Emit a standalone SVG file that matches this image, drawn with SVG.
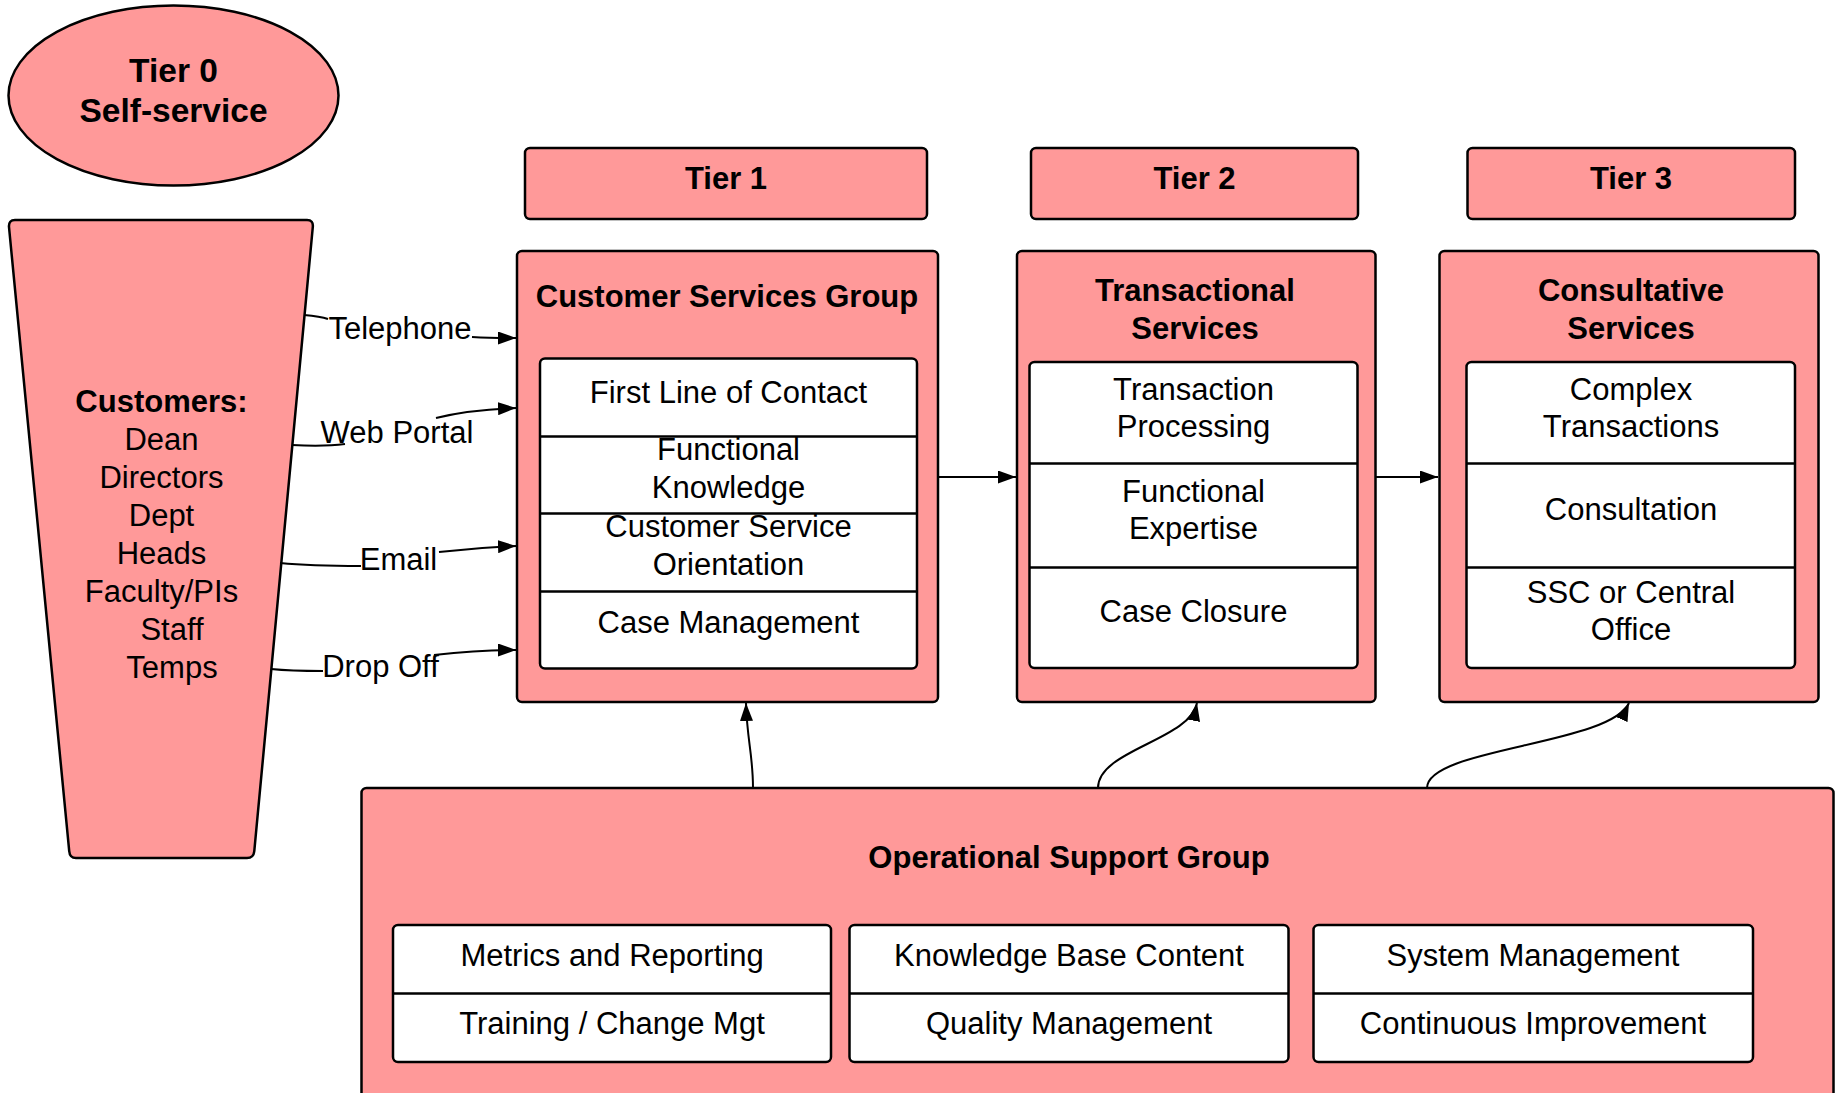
<svg xmlns="http://www.w3.org/2000/svg" width="1835" height="1093" viewBox="0 0 1835 1093">
<defs>
<style>
.box{fill:#ff9999;stroke:#000;stroke-width:2.5}
.in{fill:#fff;stroke:#000;stroke-width:2.5}
.div{stroke:#000;stroke-width:2.5;fill:none}
.t{font-family:"Liberation Sans",Arial,sans-serif;font-size:31px;fill:#000;text-anchor:middle}
.b{font-family:"Liberation Sans",Arial,sans-serif;font-size:31px;font-weight:bold;fill:#000;text-anchor:middle}
.c{fill:none;stroke:#000;stroke-width:2}
</style>
<marker id="ah" markerUnits="userSpaceOnUse" markerWidth="18" markerHeight="13" refX="18" refY="6.5" orient="auto">
<path d="M0,0 L18,6.5 L0,13 Z" fill="#000"/>
</marker>
</defs>
<rect width="1835" height="1093" fill="#fff"/>

<g id="tier0">
<ellipse class="box" cx="173.5" cy="95.5" rx="165" ry="90"/>
<text class="b" style="font-size:33.5px" x="173.5" y="82">Tier 0</text>
<text class="b" style="font-size:33.5px" x="173.5" y="122">Self-service</text>
</g>

<g id="customers">
<path class="box" d="M9,227 Q8.5,220 15,220 L307,220 Q313.5,220 312.8,227 L254.3,851 Q253.6,858 247,858 L76,858 Q69.7,858 69.2,851 Z"/>
<text class="b" x="161.5" y="412">Customers:</text>
<text class="t" x="161.5" y="450">Dean</text>
<text class="t" x="161.5" y="488">Directors</text>
<text class="t" x="161.5" y="526">Dept</text>
<text class="t" x="161.5" y="564">Heads</text>
<text class="t" x="161.5" y="602">Faculty/PIs</text>
<text class="t" x="172" y="640">Staff</text>
<text class="t" x="172" y="678">Temps</text>
</g>

<g id="tier1">
<rect class="box" x="525" y="148" width="402" height="71" rx="5"/>
<text class="b" x="726" y="189">Tier 1</text>
</g>
<g id="tier2">
<rect class="box" x="1031" y="148" width="327" height="71" rx="5"/>
<text class="b" x="1194.5" y="189">Tier 2</text>
</g>
<g id="tier3">
<rect class="box" x="1467.5" y="148" width="327.5" height="71" rx="5"/>
<text class="b" x="1631" y="189">Tier 3</text>
</g>

<g id="csg">
<rect class="box" x="517" y="251" width="421" height="451" rx="5"/>
<text class="b" x="727" y="307">Customer Services Group</text>
<rect class="in" x="540" y="358.5" width="377" height="310" rx="5"/>
<path class="div" d="M540,436.5H917M540,513.5H917M540,591.5H917"/>
<text class="t" x="728.5" y="403">First Line of Contact</text>
<text class="t" x="728.5" y="460">Functional</text>
<text class="t" x="728.5" y="498">Knowledge</text>
<text class="t" x="728.5" y="537">Customer Service</text>
<text class="t" x="728.5" y="575">Orientation</text>
<text class="t" x="728.5" y="633">Case Management</text>
</g>

<g id="ts">
<rect class="box" x="1017" y="251" width="358.5" height="451" rx="5"/>
<text class="b" x="1195" y="301">Transactional</text>
<text class="b" x="1195" y="339">Services</text>
<rect class="in" x="1029.5" y="362" width="328" height="306" rx="5"/>
<path class="div" d="M1029.5,463.5H1357.5M1029.5,567.5H1357.5"/>
<text class="t" x="1193.5" y="400">Transaction</text>
<text class="t" x="1193.5" y="437">Processing</text>
<text class="t" x="1193.5" y="502">Functional</text>
<text class="t" x="1193.5" y="539">Expertise</text>
<text class="t" x="1193.5" y="622">Case Closure</text>
</g>

<g id="cs">
<rect class="box" x="1439.5" y="251" width="379" height="451" rx="5"/>
<text class="b" x="1631" y="301">Consultative</text>
<text class="b" x="1631" y="339">Services</text>
<rect class="in" x="1466.5" y="362" width="328.5" height="306" rx="5"/>
<path class="div" d="M1466.5,463.5H1795M1466.5,567.5H1795"/>
<text class="t" x="1631" y="400">Complex</text>
<text class="t" x="1631" y="437">Transactions</text>
<text class="t" x="1631" y="520">Consultation</text>
<text class="t" x="1631" y="603">SSC or Central</text>
<text class="t" x="1631" y="640">Office</text>
</g>

<g id="osg">
<rect class="box" x="361.5" y="788" width="1472" height="340" rx="5"/>
<text class="b" x="1069" y="868">Operational Support Group</text>
<rect class="in" x="393" y="925" width="438" height="137" rx="5"/>
<path class="div" d="M393,993.5H831"/>
<text class="t" x="612" y="966">Metrics and Reporting</text>
<text class="t" x="612" y="1034">Training / Change Mgt</text>
<rect class="in" x="849.5" y="925" width="439" height="137" rx="5"/>
<path class="div" d="M849.5,993.5H1288.5"/>
<text class="t" x="1069" y="966">Knowledge Base Content</text>
<text class="t" x="1069" y="1034">Quality Management</text>
<rect class="in" x="1313.5" y="925" width="439.5" height="137" rx="5"/>
<path class="div" d="M1313.5,993.5H1753"/>
<text class="t" x="1533" y="966">System Management</text>
<text class="t" x="1533" y="1034">Continuous Improvement</text>
</g>

<g id="connectors">
<path class="c" d="M304,315 C315,316 322,317 328,319"/>
<path class="c" d="M472,337 C490,338 500,338 516,338" marker-end="url(#ah)"/>
<text class="t" x="400" y="339">Telephone</text>

<path class="c" d="M292,445 C310,446 330,446 345,444"/>
<path class="c" d="M436,418 C460,412 490,409 516,408" marker-end="url(#ah)"/>
<text class="t" x="397" y="443">Web Portal</text>

<path class="c" d="M280,563 C310,566 340,566 361,566"/>
<path class="c" d="M439,552 C465,549 490,547 516,546" marker-end="url(#ah)"/>
<text class="t" x="398.5" y="570">Email</text>

<path class="c" d="M271,669 C290,671 310,671 323,671"/>
<path class="c" d="M434,655 C460,652 490,650 516,650" marker-end="url(#ah)"/>
<text class="t" x="380.5" y="677">Drop Off</text>

<path class="c" d="M938,477 L1016,477" marker-end="url(#ah)"/>
<path class="c" d="M1376,477 L1438,477" marker-end="url(#ah)"/>

<path class="c" d="M753,788 C753,755 747,740 746,703" marker-end="url(#ah)"/>
<path class="c" d="M1098,788 C1098,750 1190,740 1197,703" marker-end="url(#ah)"/>
<path class="c" d="M1427,788 C1427,748 1610,745 1629,703" marker-end="url(#ah)"/>
</g>
</svg>
